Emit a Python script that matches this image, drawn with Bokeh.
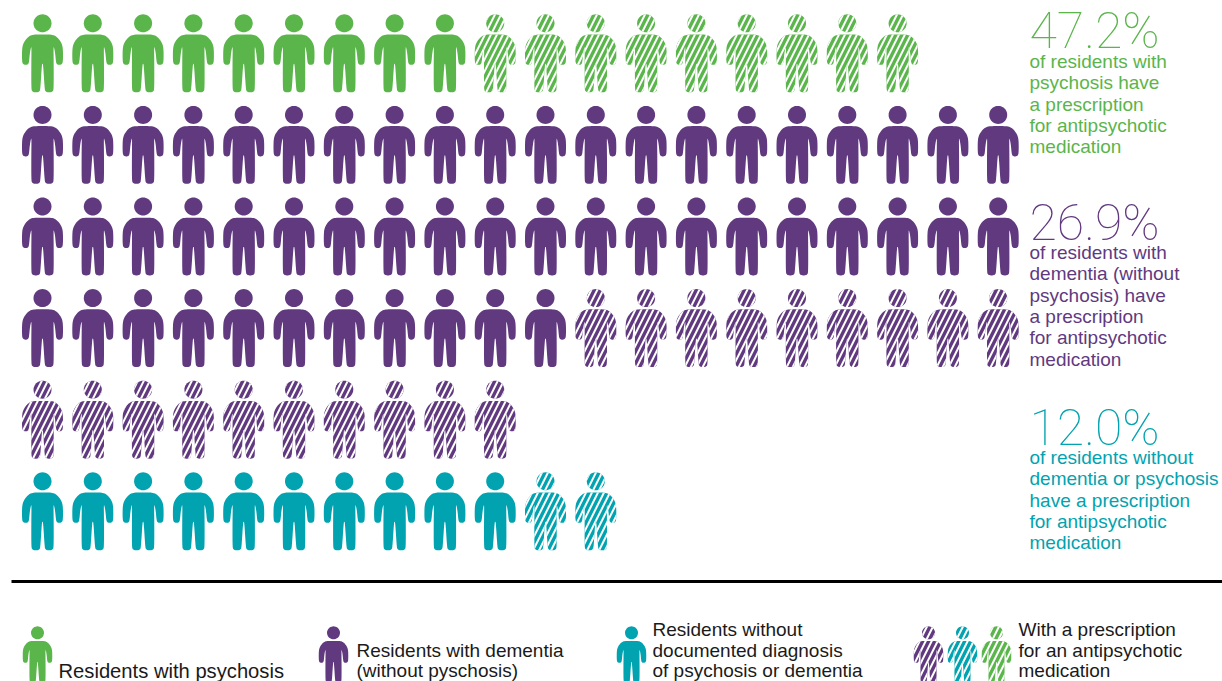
import numpy as np
from bokeh.plotting import figure
from bokeh.models import Range1d, ColumnDataSource
from bokeh.core.properties import value
from bokeh.embed import file_html
from bokeh.resources import INLINE

# ---- data ----
group_colors = ["#5AB54B", "#61397F", "#00A3AF"]
group_solid = [9, 51, 10]
group_hatched = [9, 19, 2]
per_row = 20

big_labels = ["47.2%", "26.9%", "12.0%"]
group_lines = [
    ["of residents with", "psychosis have", "a prescription", "for antipsychotic", "medication"],
    ["of residents with", "dementia (without", "psychosis) have", "a prescription", "for antipsychotic", "medication"],
    ["of residents without", "dementia or psychosis", "have a prescription", "for antipsychotic", "medication"],
]
legend_labels = [
    ["Residents with psychosis"],
    ["Residents with dementia", "(without pyschosis)"],
    ["Residents without", "documented diagnosis", "of psychosis or dementia"],
    ["With a prescription", "for an antipsychotic", "medication"],
]

# ---- layout ----
W, H = 1222, 681
X0, Y0, DX, DY = 42.0, 14.0, 50.3, 91.6
FONT = "Liberation Sans"
BIGFONT = "Roboto Thin"


def chaikin(pts, n=2):
    pts = np.asarray(pts, float)
    for _ in range(n):
        nxt = np.roll(pts, -1, axis=0)
        pts = np.column_stack([0.75 * pts + 0.25 * nxt, 0.25 * pts + 0.75 * nxt]).reshape(-1, 2)
    return pts


half = [(0, 20), (7, 20), (11.5, 20.6), (15.2, 23.2), (18.1, 27), (19.9, 31), (20.5, 36), (20.5, 46),
        (19.8, 49.6), (16.6, 50.6), (14, 49.6), (13.3, 46), (12.6, 38), (11.3, 32), (11, 34),
        (11.2, 50), (11.2, 73.5), (10.5, 77), (6.6, 78), (2.8, 77), (2.1, 73.5), (0.6, 50), (0, 49)]
half = np.array(half)
mirror = half[::-1][1:-1] * np.array([-1, 1])
BODY = chaikin(np.vstack([half, mirror]), 2)
t = np.linspace(0, 2 * np.pi, 40, endpoint=False)
HEAD = np.column_stack([9.0 * np.cos(t), 8.8 + 9.0 * np.sin(t)])


def person(cx, top, scale=1.0):
    return [(cx + scale * S[:, 0]).tolist() for S in (HEAD, BODY)], [(top + scale * S[:, 1]).tolist() for S in (HEAD, BODY)]


people = {False: dict(xs=[], ys=[], c=[]), True: dict(xs=[], ys=[], c=[])}


def add(cx, top, color, hatched, scale=1.0):
    xs, ys = person(cx, top, scale)
    d = people[hatched]
    d["xs"] += xs
    d["ys"] += ys
    d["c"] += [color, color]


row = 0
for color, solid, hat in zip(group_colors, group_solid, group_hatched):
    flags = [False] * solid + [True] * hat
    for i, h in enumerate(flags):
        add(X0 + (i % per_row) * DX, Y0 + (row + i // per_row) * DY, color, h)
    row += (len(flags) - 1) // per_row + 1

LS = 0.72
LT = 626
add(37, LT, group_colors[0], False, LS)
add(333, LT, group_colors[1], False, LS)
add(631, LT, group_colors[2], False, LS)
add(928, LT, group_colors[1], True, LS)
add(962, LT, group_colors[2], True, LS)
add(996, LT, group_colors[0], True, LS)

p = figure(width=W, height=H, output_backend="svg", toolbar_location=None,
           x_range=Range1d(0, W), y_range=Range1d(H, 0), min_border=0)
p.axis.visible = False
p.grid.visible = False
p.outline_line_color = None

p.patches("xs", "ys", source=ColumnDataSource(people[False]), fill_color="c", line_color=None)
p.patches("xs", "ys", source=ColumnDataSource(people[True]), fill_color="c", line_color=None,
          hatch_pattern="right_diagonal_line", hatch_color="white", hatch_scale=12, hatch_weight=2)

p.segment([11], [581], [1222], [581], line_color="black", line_width=3)

# right-hand annotations
big_y = [30, 222, 427]
first_line_y = [61, 252, 457]
for color, big, lines, by, fy in zip(group_colors, big_labels, group_lines, big_y, first_line_y):
    p.text([1029], [by], text=[big], text_color=color, text_font=value(BIGFONT), text_font_size="50px",
           text_baseline="middle", text_align="left")
    p.text([1029] * len(lines), [fy + 21.3 * i for i in range(len(lines))], text=lines, text_color=color,
           text_font=value(FONT), text_font_size="19px", text_baseline="middle", text_align="left")

# legend
legend_x = [58, 356, 652, 1018]
legend_y = [[670], [650, 670], [629, 650, 670], [629, 650, 670]]
legend_size = ["20.2px", "19px", "19px", "19px"]
for x, ys, lines, fs in zip(legend_x, legend_y, legend_labels, legend_size):
    p.text([x] * len(lines), ys, text=lines, text_color="#1a1a1a",
           text_font=value(FONT), text_font_size=fs, text_baseline="middle", text_align="left")

open("out.html", "w").write(file_html(p, INLINE))
